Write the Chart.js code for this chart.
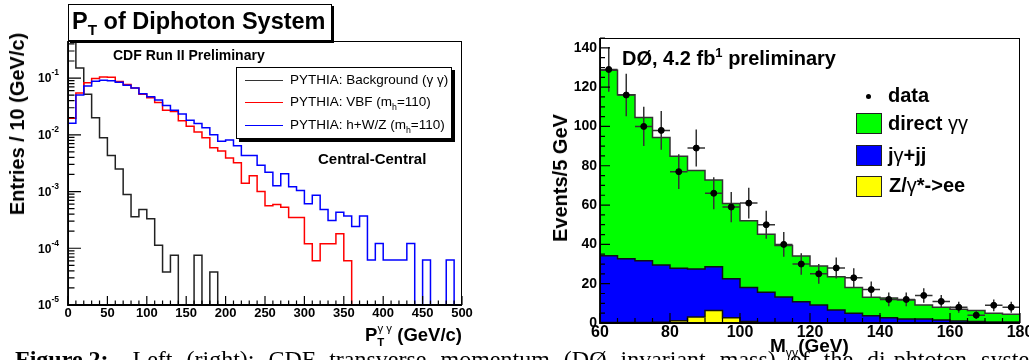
<!DOCTYPE html>
<html>
<head>
<meta charset="utf-8">
<title>Diphoton pT (CDF) and invariant mass (D0)</title>
<script src="https://cdn.jsdelivr.net/npm/chart.js@4.4.0/dist/chart.umd.min.js"></script>
<style>
  html, body { margin: 0; padding: 0; }
  body { width: 1029px; height: 360px; overflow: hidden; position: relative; background: #fff;
         font-family: "Liberation Sans", Arial, Helvetica, sans-serif; color: #000; }
  canvas { position: absolute; top: 0; }
  #ptChart { left: 0; }
  #massChart { left: 515px; }
  .t { position: absolute; white-space: nowrap; line-height: 1; font-weight: bold; }
  .n { font-weight: normal; }
  .box { position: absolute; border: 1px solid #000; background: #fff; box-sizing: border-box; }
  .rot { transform: translate(-50%, -50%) rotate(-90deg); }
  .sw { position: absolute; height: 0; }
  .sq { position: absolute; border: 1px solid #222; box-sizing: border-box; width: 26px; height: 21px; }
  sub, sup { font-size: 65%; line-height: 0; }
  #caption { position: absolute; left: 15px; top: 347px; font-family: "Liberation Serif", "Times New Roman", serif;
             font-size: 24px; line-height: 1; white-space: nowrap; }
</style>
</head>
<body>
<canvas id="ptChart" width="515" height="330"></canvas>
<canvas id="massChart" width="530" height="345"></canvas>

<!-- left panel texts -->
<div class="box" style="left:68px;top:4px;width:264px;height:37px;box-shadow:2px 2px 0 #000"></div>
<div class="t" style="left:72px;top:10px;font-size:23.5px">P<sub>T</sub> of Diphoton System</div>
<div class="t" style="left:113px;top:48px;font-size:14px">CDF Run II Preliminary</div>
<div class="box" style="left:236px;top:67px;width:216px;height:72px;box-shadow:3px 3px 0 #000"></div>
<div class="sw" style="left:245px;top:80px;width:38px;border-top:1.5px solid #333"></div>
<div class="sw" style="left:245px;top:102px;width:38px;border-top:1.5px solid #ff0000"></div>
<div class="sw" style="left:245px;top:125px;width:38px;border-top:1.5px solid #0000ff"></div>
<div class="t n" style="left:290px;top:73px;font-size:13.5px">PYTHIA: Background (γ γ)</div>
<div class="t n" style="left:290px;top:95px;font-size:13.5px">PYTHIA: VBF (m<sub>h</sub>=110)</div>
<div class="t n" style="left:290px;top:118px;font-size:13.5px">PYTHIA: h+W/Z (m<sub>h</sub>=110)</div>
<div class="t" style="left:318px;top:151px;font-size:15px">Central-Central</div>
<div class="t rot" style="left:17px;top:124px;font-size:20px">Entries / 10 (GeV/c)</div>
<div class="t" style="right:567px;top:326px;font-size:18.5px">P<span style="font-size:62%;position:relative;top:0.45em">T</span><span class="n" style="font-size:62%;position:relative;top:-0.75em;margin-left:-0.6em">γ γ</span> (GeV/c)</div>

<!-- right panel texts -->
<div class="t" style="left:622px;top:48px;font-size:20px">DØ, 4.2 fb<sup>1</sup> preliminary</div>
<div style="position:absolute;left:866px;top:94px;width:5px;height:5px;border-radius:50%;background:#000"></div>
<div class="t" style="left:888px;top:85px;font-size:20px">data</div>
<div class="sq" style="left:856px;top:113px;background:#00ff00"></div>
<div class="t" style="left:888px;top:113px;font-size:20px">direct <span class="n">γγ</span></div>
<div class="sq" style="left:856px;top:145px;background:#0000ff"></div>
<div class="t" style="left:888px;top:145px;font-size:20px">j<span class="n">γ</span>+jj</div>
<div class="sq" style="left:856px;top:176px;background:#ffff00"></div>
<div class="t" style="left:889px;top:175px;font-size:20px">Z/<span class="n">γ</span>*-&gt;ee</div>
<div class="t rot" style="left:560px;top:178px;font-size:20px">Events/5 GeV</div>
<div class="t" style="left:770px;top:336px;font-size:19px">M<sub class="n">γγ</sub>(GeV)</div>

<div id="caption"><b>Figure 2:</b><span style="margin-left:24px;word-spacing:8px">Left (right): CDF transverse momentum (DØ invariant mass) of the di-phtoton system</span></div>

<script>
// left: CDF, pT of the diphoton system, 10 GeV/c bins (low edges + last upper edge)
const ptEdges = [0, 10, 20, 30, 40, 50, 60, 70, 80, 90, 100, 110, 120, 130, 140, 150, 160, 170, 180, 190,
  200, 210, 220, 230, 240, 250, 260, 270, 280, 290, 300, 310, 320, 330, 340, 350, 360, 370, 380, 390,
  400, 410, 420, 430, 440, 450, 460, 470, 480, 490, 500];
const ptBackground = [0.8, 0.15, 0.052, 0.020, 0.0089, 0.0043, 0.0025, 0.00089, 0.00036, 0.00048,
  0.00033, 0.000113, 0.000038, 0.000075, 0, 0, 0.000075, 0, 0.000038, 0,
  0, 0, 0, 0, 0, 0, 0, 0, 0, 0, 0, 0, 0, 0, 0, 0, 0, 0, 0, 0, 0, 0, 0, 0, 0, 0, 0, 0, 0, 0];
const ptVBF = [0.0195, 0.0546, 0.083, 0.098, 0.104, 0.103, 0.087, 0.077, 0.067, 0.052,
  0.045, 0.037, 0.027, 0.0258, 0.0176, 0.0141, 0.0112, 0.0089, 0.0059, 0.0052,
  0.0039, 0.0032, 0.0014, 0.0019, 0.0010, 0.00056, 0.00059, 0.00053, 0.00035, 0.00035,
  0.00012, 0.00006, 0.00012, 0.00012, 0.00018, 0.00006, 0, 0, 0, 0,
  0, 0, 0, 0, 0, 0, 0, 0, 0, 0];
const ptHWZ = [0.0159, 0.0504, 0.0724, 0.088, 0.0914, 0.090, 0.084, 0.075, 0.067, 0.053,
  0.047, 0.041, 0.033, 0.027, 0.0232, 0.0181, 0.0158, 0.0133, 0.0100, 0.0077,
  0.0081, 0.0064, 0.0043, 0.0043, 0.0029, 0.00218, 0.00127, 0.00205, 0.00122, 0.00104,
  0.00061, 0.00086, 0.00048, 0.00031, 0.00043, 0.00037, 0.000243, 0.00037, 0.000062, 0.000121,
  0.000062, 0.000062, 0.000062, 0.000121, 0, 0.000062, 0, 0, 0.000062, 0];
const ptDecades = [-5, -4, -3, -2, -1];
const ptYMin = 1e-5, ptYMax = 0.45;

// right: D0, diphoton invariant mass, 5 GeV bins, stacked backgrounds + data
const massEdges = [60, 65, 70, 75, 80, 85, 90, 95, 100, 105, 110, 115, 120, 125, 130, 135, 140, 145,
  150, 155, 160, 165, 170, 175, 180];
const massZee = [0.2, 0.2, 0.3, 0.4, 1.2, 3.0, 6.4, 2.7, 0.7, 0.3, 0.2, 0.1, 0.1, 0.1, 0, 0, 0, 0, 0, 0, 0, 0, 0, 0];
const massJets = [34.0, 32.5, 31.4, 29.1, 26.6, 24.5, 22.2, 19.8, 17.4, 15.3, 13.0, 10.7, 9.1, 6.5, 4.9, 3.7,
  2.7, 2.0, 2.0, 1.5, 1.0, 0.7, 0.5, 0.5];
const massDirect = [94.4, 83.4, 72.9, 64.9, 57.1, 50.1, 44.1, 38.3, 33.9, 29.5, 26.2, 23.3, 19.8, 16.9, 13.2, 9.4,
  10.0, 9.7, 7.2, 6.5, 6.0, 5.6, 4.4, 3.9];
const massData = [129, 116, 100, 98, 77, 89, 66, 59, 61, 50, 40, 30, 25, 28, 23, 17, 12, 12, 14, 11, 8, 4, 9, 8];
const massDataErr = [11.4, 10.8, 10.0, 9.9, 8.8, 9.4, 8.1, 7.7, 7.8, 7.1, 6.3, 5.5, 5.0, 5.3, 4.8, 4.1,
  3.5, 3.5, 3.7, 3.3, 2.8, 2.0, 3.0, 2.8];
const massYTickLabels = [0, 20, 40, 60, 80, 100, 120, 140];

const FONT = '"Liberation Sans", Arial, sans-serif';

// step histogram points: one point per low edge, plus the closing upper edge
function histPoints(edges, vals, floor) {
  const pts = vals.map((v, i) => ({ x: edges[i], y: Math.max(v, floor) }));
  pts.push({ x: edges[vals.length], y: Math.max(vals[vals.length - 1], floor) });
  return pts;
}

// ROOT-like frame with ticks pointing inwards
function rootFrame(xTicks, yTicks, extra) {
  return {
    id: 'rootFrame',
    afterDraw(chart) {
      const { ctx, chartArea: a, scales } = chart;
      ctx.save();
      ctx.strokeStyle = '#000';
      ctx.lineWidth = 1;
      ctx.strokeRect(a.left + 0.5, a.top + 0.5, a.width - 1, a.height - 1);
      ctx.lineWidth = 1.8;
      ctx.beginPath();
      ctx.moveTo(a.left, a.top);
      ctx.lineTo(a.left, a.bottom);
      ctx.lineTo(a.right, a.bottom);
      ctx.stroke();
      ctx.lineWidth = 1.2;
      ctx.beginPath();
      xTicks.forEach(([v, len]) => {
        const px = scales.x.getPixelForValue(v);
        ctx.moveTo(px, a.bottom);
        ctx.lineTo(px, a.bottom - len);
      });
      yTicks.forEach(([v, len]) => {
        const py = scales.y.getPixelForValue(v);
        ctx.moveTo(a.left, py);
        ctx.lineTo(a.left + len, py);
      });
      ctx.stroke();
      ctx.restore();
      if (extra) extra(chart);
    }
  };
}

// ---------- left chart ----------
const ptXTicks = [];
for (let v = 0; v <= 500; v += 10) ptXTicks.push([v, v % 50 === 0 ? 9 : 4.5]);
const ptYTicks = [];
ptDecades.forEach(d => {
  for (let m = 1; m <= 9; m++) {
    const v = m * Math.pow(10, d);
    if (v <= ptYMax) ptYTicks.push([v, m === 1 ? 13 : 6.5]);
  }
});

function powerLabels(chart) {
  const { ctx, chartArea: a, scales: { y } } = chart;
  ctx.save();
  ctx.fillStyle = '#000';
  ctx.textBaseline = 'middle';
  ctx.textAlign = 'right';
  ptDecades.forEach(d => {
    const py = y.getPixelForValue(Math.pow(10, d));
    const xr = a.left - 9;
    ctx.font = 'bold 8.5px ' + FONT;
    const exp = String(d);
    const ew = ctx.measureText(exp).width;
    ctx.fillText(exp, xr, py - 5);
    ctx.font = 'bold 12px ' + FONT;
    ctx.fillText('10', xr - ew, py + 1);
  });
  ctx.restore();
}

const lineStyle = { stepped: true, pointRadius: 0, borderWidth: 1.5, fill: false };

new Chart('ptChart', {
  type: 'line',
  data: {
    datasets: [
      Object.assign({ label: 'PYTHIA: h+W/Z', data: histPoints(ptEdges, ptHWZ, ptYMin), borderColor: '#0000ff', order: 0 }, lineStyle),
      Object.assign({ label: 'PYTHIA: VBF', data: histPoints(ptEdges, ptVBF, ptYMin), borderColor: '#ff0000', order: 1 }, lineStyle),
      Object.assign({ label: 'PYTHIA: Background', data: histPoints(ptEdges, ptBackground, ptYMin), borderColor: '#222', order: 2 }, lineStyle)
    ]
  },
  options: {
    responsive: false,
    animation: false,
    events: [],
    layout: { padding: { top: 41, right: 53, left: 0, bottom: 0 } },
    plugins: { legend: { display: false }, tooltip: { enabled: false } },
    scales: {
      x: {
        type: 'linear', min: 0, max: 500,
        grid: { display: false, drawTicks: false },
        border: { display: false },
        ticks: { stepSize: 50, padding: 1, maxRotation: 0, autoSkip: false, color: '#000', font: { family: FONT, size: 13, weight: 'bold' } },
        afterFit: s => { s.height = 25; }
      },
      y: {
        type: 'logarithmic', min: ptYMin, max: ptYMax,
        grid: { display: false, drawTicks: false },
        border: { display: false },
        ticks: { display: false },
        afterFit: s => { s.width = 68; }
      }
    }
  },
  plugins: [rootFrame(ptXTicks, ptYTicks, powerLabels)]
});

// ---------- right chart ----------
const massXTicks = [];
for (let v = 60; v <= 180; v += 5) massXTicks.push([v, (v - 60) % 20 === 0 ? 10 : 5]);
const massYTicks = [];
for (let v = 0; v <= 145; v += 5) massYTicks.push([v, v % 20 === 0 ? 10 : 5]);

const errorBars = {
  id: 'errorBars',
  beforeDatasetDraw(chart, args) {
    if (args.meta.type !== 'scatter') return;
    const { ctx, scales: { x, y } } = chart;
    ctx.save();
    ctx.strokeStyle = '#333';
    ctx.lineWidth = 1.5;
    ctx.beginPath();
    massData.forEach((n, i) => {
      const lo = massEdges[i], hi = massEdges[i + 1];
      const px = x.getPixelForValue((lo + hi) / 2);
      const py = y.getPixelForValue(n);
      ctx.moveTo(x.getPixelForValue(lo), py);
      ctx.lineTo(x.getPixelForValue(hi), py);
      ctx.moveTo(px, y.getPixelForValue(n - massDataErr[i]));
      ctx.lineTo(px, y.getPixelForValue(n + massDataErr[i]));
    });
    ctx.stroke();
    ctx.restore();
  }
};

const fillStyle = { stepped: true, pointRadius: 0, borderWidth: 1.5, fill: 'origin' };

new Chart('massChart', {
  type: 'line',
  data: {
    datasets: [
      Object.assign({ label: 'Z/γ*->ee', data: histPoints(massEdges, massZee, 0), backgroundColor: '#ffff00', borderColor: '#111' }, fillStyle),
      Object.assign({ label: 'jγ+jj', data: histPoints(massEdges, massJets, 0), backgroundColor: '#0000ff', borderColor: '#111' }, fillStyle),
      Object.assign({ label: 'direct γγ', data: histPoints(massEdges, massDirect, 0), backgroundColor: '#00ff00', borderColor: '#333' }, fillStyle),
      {
        type: 'scatter', label: 'data', stack: 'data', order: -1,
        data: massData.map((n, i) => ({ x: (massEdges[i] + massEdges[i + 1]) / 2, y: n })),
        pointRadius: 3, pointBackgroundColor: '#000', pointBorderColor: '#000'
      }
    ]
  },
  options: {
    responsive: false,
    animation: false,
    events: [],
    layout: { padding: { top: 38, right: 25, left: 0, bottom: 0 } },
    plugins: { legend: { display: false }, tooltip: { enabled: false } },
    scales: {
      x: {
        type: 'linear', min: 60, max: 180,
        grid: { display: false, drawTicks: false },
        border: { display: false },
        ticks: { stepSize: 20, padding: 0, maxRotation: 0, autoSkip: false, color: '#000', font: { family: FONT, size: 16, weight: 'bold' } },
        afterFit: s => { s.height = 22; }
      },
      y: {
        type: 'linear', min: 0, max: 145, stacked: true,
        grid: { display: false, drawTicks: false },
        border: { display: false },
        afterBuildTicks: s => { s.ticks = massYTickLabels.map(v => ({ value: v })); },
        ticks: { autoSkip: false, padding: 3, color: '#000', font: { family: FONT, size: 14, weight: 'bold' } },
        afterFit: s => { s.width = 85; }
      }
    }
  },
  plugins: [rootFrame(massXTicks, massYTicks), errorBars]
});
</script>
</body>
</html>
